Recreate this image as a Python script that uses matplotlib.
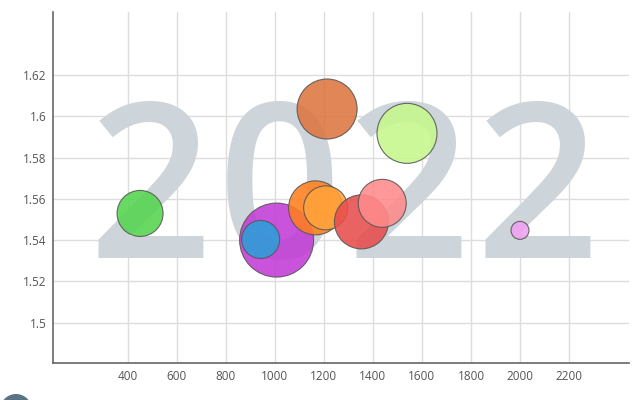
import matplotlib
matplotlib.use("Agg")
import matplotlib.pyplot as plt
from matplotlib.patches import Circle
import numpy as np

# Data
x_vals = [450, 1007, 942, 1166, 1207, 1213, 1539, 1353, 1438, 2000]
y_vals = [1.5529, 1.540, 1.5403, 1.5556, 1.5556, 1.6035, 1.5917, 1.5488, 1.5578, 1.5447]
sizes = [529, 1369, 361, 729, 484, 900, 900, 729, 576, 81]
colors = ["#55d44f", "#c23bd6", "#2aa0d9", "#ff7f1e", "#ffa33a", "#dd7540",
          "#c6f88c", "#e84d4d", "#ff8a8a", "#f0a0f0"]
year_label = "2022"
x_ticks = [400, 600, 800, 1000, 1200, 1400, 1600, 1800, 2000, 2200]
y_ticks = [1.5, 1.52, 1.54, 1.56, 1.58, 1.6, 1.62]
y_tick_labels = ["1.5", "1.52", "1.54", "1.56", "1.58", "1.6", "1.62"]

plt.rcParams['font.family'] = ['Open Sans', 'DejaVu Sans']

fig = plt.figure(figsize=(6.4, 4.0), dpi=100)
ax = fig.add_axes([0.0833, 0.0918, 0.90, 0.8782])
ax.set_xlim(96, 2446)
ax.set_ylim(1.4803, 1.6505)

ax.set_xticks(x_ticks)
ax.set_xticklabels([str(t) for t in x_ticks])
ax.set_yticks(y_ticks)
ax.set_yticklabels(y_tick_labels)
ax.tick_params(length=0, labelsize=8.5, labelcolor="#555555", pad=5)
ax.grid(True, color="#dddddd", linewidth=1)
ax.set_axisbelow(True)
for s in ["top", "right"]:
    ax.spines[s].set_visible(False)
for s in ["left", "bottom"]:
    ax.spines[s].set_color("#666666")
    ax.spines[s].set_linewidth(1.2)

# Background year, one glyph per slot (wide spacing as in the reference)
ax_w_px = 576.0
base_frac = (400 - 258 - 36.7) / 351.3
centers_px = [150, 279, 408, 537]
for ch, cx in zip(year_label, centers_px):
    ax.text((cx - 53.3) / ax_w_px, base_frac, ch, transform=ax.transAxes,
            ha="center", va="baseline", fontsize=156, fontweight="semibold",
            color="#cdd4da", zorder=1.5)

# Bubbles: radius in px proportional to sqrt(size)
r_px = np.sqrt(np.array(sizes, dtype=float))
s_pts = (2 * r_px * 0.72) ** 2
ax.scatter(x_vals, y_vals, s=s_pts, c=colors, alpha=0.88,
           edgecolors="#555555", linewidths=0.8, zorder=3)

# Play button (partially visible)
fig.patches.append(Circle((0.16, -0.10), 0.16, transform=fig.dpi_scale_trans,
                          facecolor="#5b7283", edgecolor="none"))

fig.savefig("out.png", dpi=100)
